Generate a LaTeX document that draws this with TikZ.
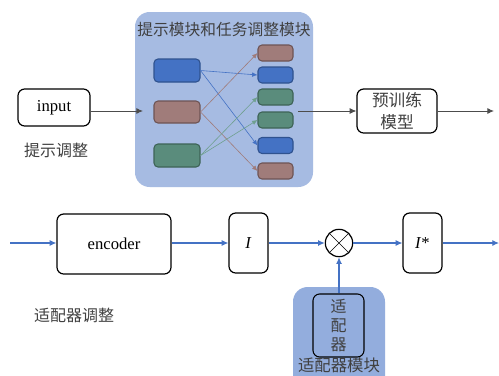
\documentclass[tikz,border=0pt]{standalone}
\usepackage{fontspec}
\setmainfont{Liberation Serif}
\newfontfamily\cjk{Noto Sans CJK SC}
\usetikzlibrary{arrows.meta}
\definecolor{panelbg}{HTML}{A6BBE2}
\definecolor{panelbg2}{HTML}{93ADDD}
\definecolor{bblue}{HTML}{4472C4}
\definecolor{bblueD}{HTML}{2F528F}
\definecolor{bbrown}{HTML}{A07C7A}
\definecolor{bbrownD}{HTML}{6E5454}
\definecolor{bgreen}{HTML}{5A8C7C}
\definecolor{bgreenD}{HTML}{3D6356}
\definecolor{agreen}{HTML}{6FA08F}
\definecolor{cjkgray}{HTML}{404040}
\tikzset{
  wbox/.style={draw=black, line width=0.9pt, rounded corners=5pt, fill=white, align=center, inner sep=0pt},
  cbox/.style={line width=0.8pt, rounded corners=3pt, inner sep=0pt},
  cjktext/.style={font=\cjk\fontsize{12}{15}\selectfont, text=cjkgray},
  latin/.style={font=\fontsize{12.5}{15}\selectfont},
  darr/.style={draw=black!70, line width=0.7pt, -{Latex[length=5pt,width=4.5pt]}},
  barr/.style={draw=bblue, line width=0.8pt, -{Latex[length=5pt,width=4.5pt]}},
  thinarr/.style={line width=0.45pt, -{Latex[length=4pt,width=3.5pt]}},
}
\begin{document}
\begin{tikzpicture}[x=0.75pt,y=-0.75pt]
\clip (0,0) rectangle (499,375);
\fill[white] (0,0) rectangle (499,375);

% top panel
\node[fill=panelbg, rounded corners=11pt, minimum width=133.5pt, minimum height=131.25pt, inner sep=0pt] (panel) at (224,99.5) {};
\node[cjktext, font=\cjk\fontsize{11.8}{14}\selectfont] (title) at (224,30) {提示模块和任务调整模块};

% left boxes
\node[cbox, fill=bblue, draw=bblueD, minimum width=34.5pt, minimum height=17.25pt] (lb) at (177,70.5) {};
\node[cbox, fill=bbrown, draw=bbrownD, minimum width=34.5pt, minimum height=16.5pt] (lr) at (177,112) {};
\node[cbox, fill=bgreen, draw=bgreenD, minimum width=34.5pt, minimum height=17.25pt] (lg) at (177,155.5) {};

% right boxes
\node[cbox, fill=bbrown, draw=bbrownD, minimum width=26.25pt, minimum height=12pt] (r1) at (275.5,53) {};
\node[cbox, fill=bblue, draw=bblueD, minimum width=26.25pt, minimum height=12pt] (r2) at (275.5,75) {};
\node[cbox, fill=bgreen, draw=bgreenD, minimum width=26.25pt, minimum height=12pt] (r3) at (275.5,97) {};
\node[cbox, fill=bgreen, draw=bgreenD, minimum width=26.25pt, minimum height=12pt] (r4) at (275.5,120) {};
\node[cbox, fill=bblue, draw=bblueD, minimum width=26.25pt, minimum height=12pt] (r5) at (275.5,145.5) {};
\node[cbox, fill=bbrown, draw=bbrownD, minimum width=26.25pt, minimum height=12pt] (r6) at (275.5,171) {};

\draw[thinarr, draw=bblue] (lb.east) -- (r2.west);
\draw[thinarr, draw=bblue] (lb.east) -- (r5.west);
\draw[thinarr, draw=bbrown] (lr.east) -- (r1.west);
\draw[thinarr, draw=bbrown] (lr.east) -- (r6.west);
\draw[thinarr, draw=agreen] (lg.east) -- (r3.west);
\draw[thinarr, draw=agreen] (lg.east) -- (r4.west);

% input
\node[wbox, latin, minimum width=54pt, minimum height=27.75pt] (input) at (54,107.5) {input};
\node[cjktext] (tsl) at (56,150) {提示调整};
\coordinate (pin) at (143,111);
\draw[darr] (input.east |- pin) -- (pin);

% pretrained model
\node[wbox, cjktext, font=\cjk\fontsize{12.5}{16}\selectfont, minimum width=60pt, minimum height=33pt] (ptm) at (397,111) {预训练\\模型};
\coordinate (pout) at (298,111);
\draw[darr] (pout) -- (ptm.west);
\coordinate (mout) at (494,111);
\draw[darr] (ptm.east) -- (mout);

% bottom row
\coordinate (bin) at (10,243);
\node[wbox, latin, minimum width=85.5pt, minimum height=45pt] (enc) at (114,244) {encoder};
\node[wbox, latin, minimum width=29.25pt, minimum height=45pt] (I) at (248.5,243) {\textit{I}};
\node[draw=black, line width=0.9pt, circle, fill=white, minimum size=20.5pt, inner sep=0pt] (mul) at (339,243) {};
\draw[line width=0.5pt] (mul.north west) -- (mul.south east) (mul.north east) -- (mul.south west);
\node[wbox, latin, minimum width=29.25pt, minimum height=45pt] (Is) at (422.5,243) {\textit{I}*};
\coordinate (bout) at (499,243);

\draw[barr] (bin) -- (enc.west |- bin);
\draw[barr] (enc.east |- I.west) -- (I.west);
\draw[barr] (I.east) -- (mul.west);
\draw[barr] (mul.east) -- (Is.west);
\draw[barr] (Is.east) -- (bout);

\node[cjktext] (asl) at (74,315) {适配器调整};

% adapter panel
\fill[panelbg2, rounded corners=11pt] (293,287) rectangle (385,395);
\node[wbox, fill=none, cjktext, font=\cjk\fontsize{12}{14}\selectfont, line width=0.8pt, minimum width=38.25pt, minimum height=47.25pt] (ad) at (338.5,325.5) {适\\配\\器};
\node[cjktext, font=\cjk\fontsize{12.3}{14}\selectfont] (adl) at (339,365) {适配器模块};
\draw[barr] (ad.north -| mul.south) -- (mul.south);
\end{tikzpicture}
\end{document}
